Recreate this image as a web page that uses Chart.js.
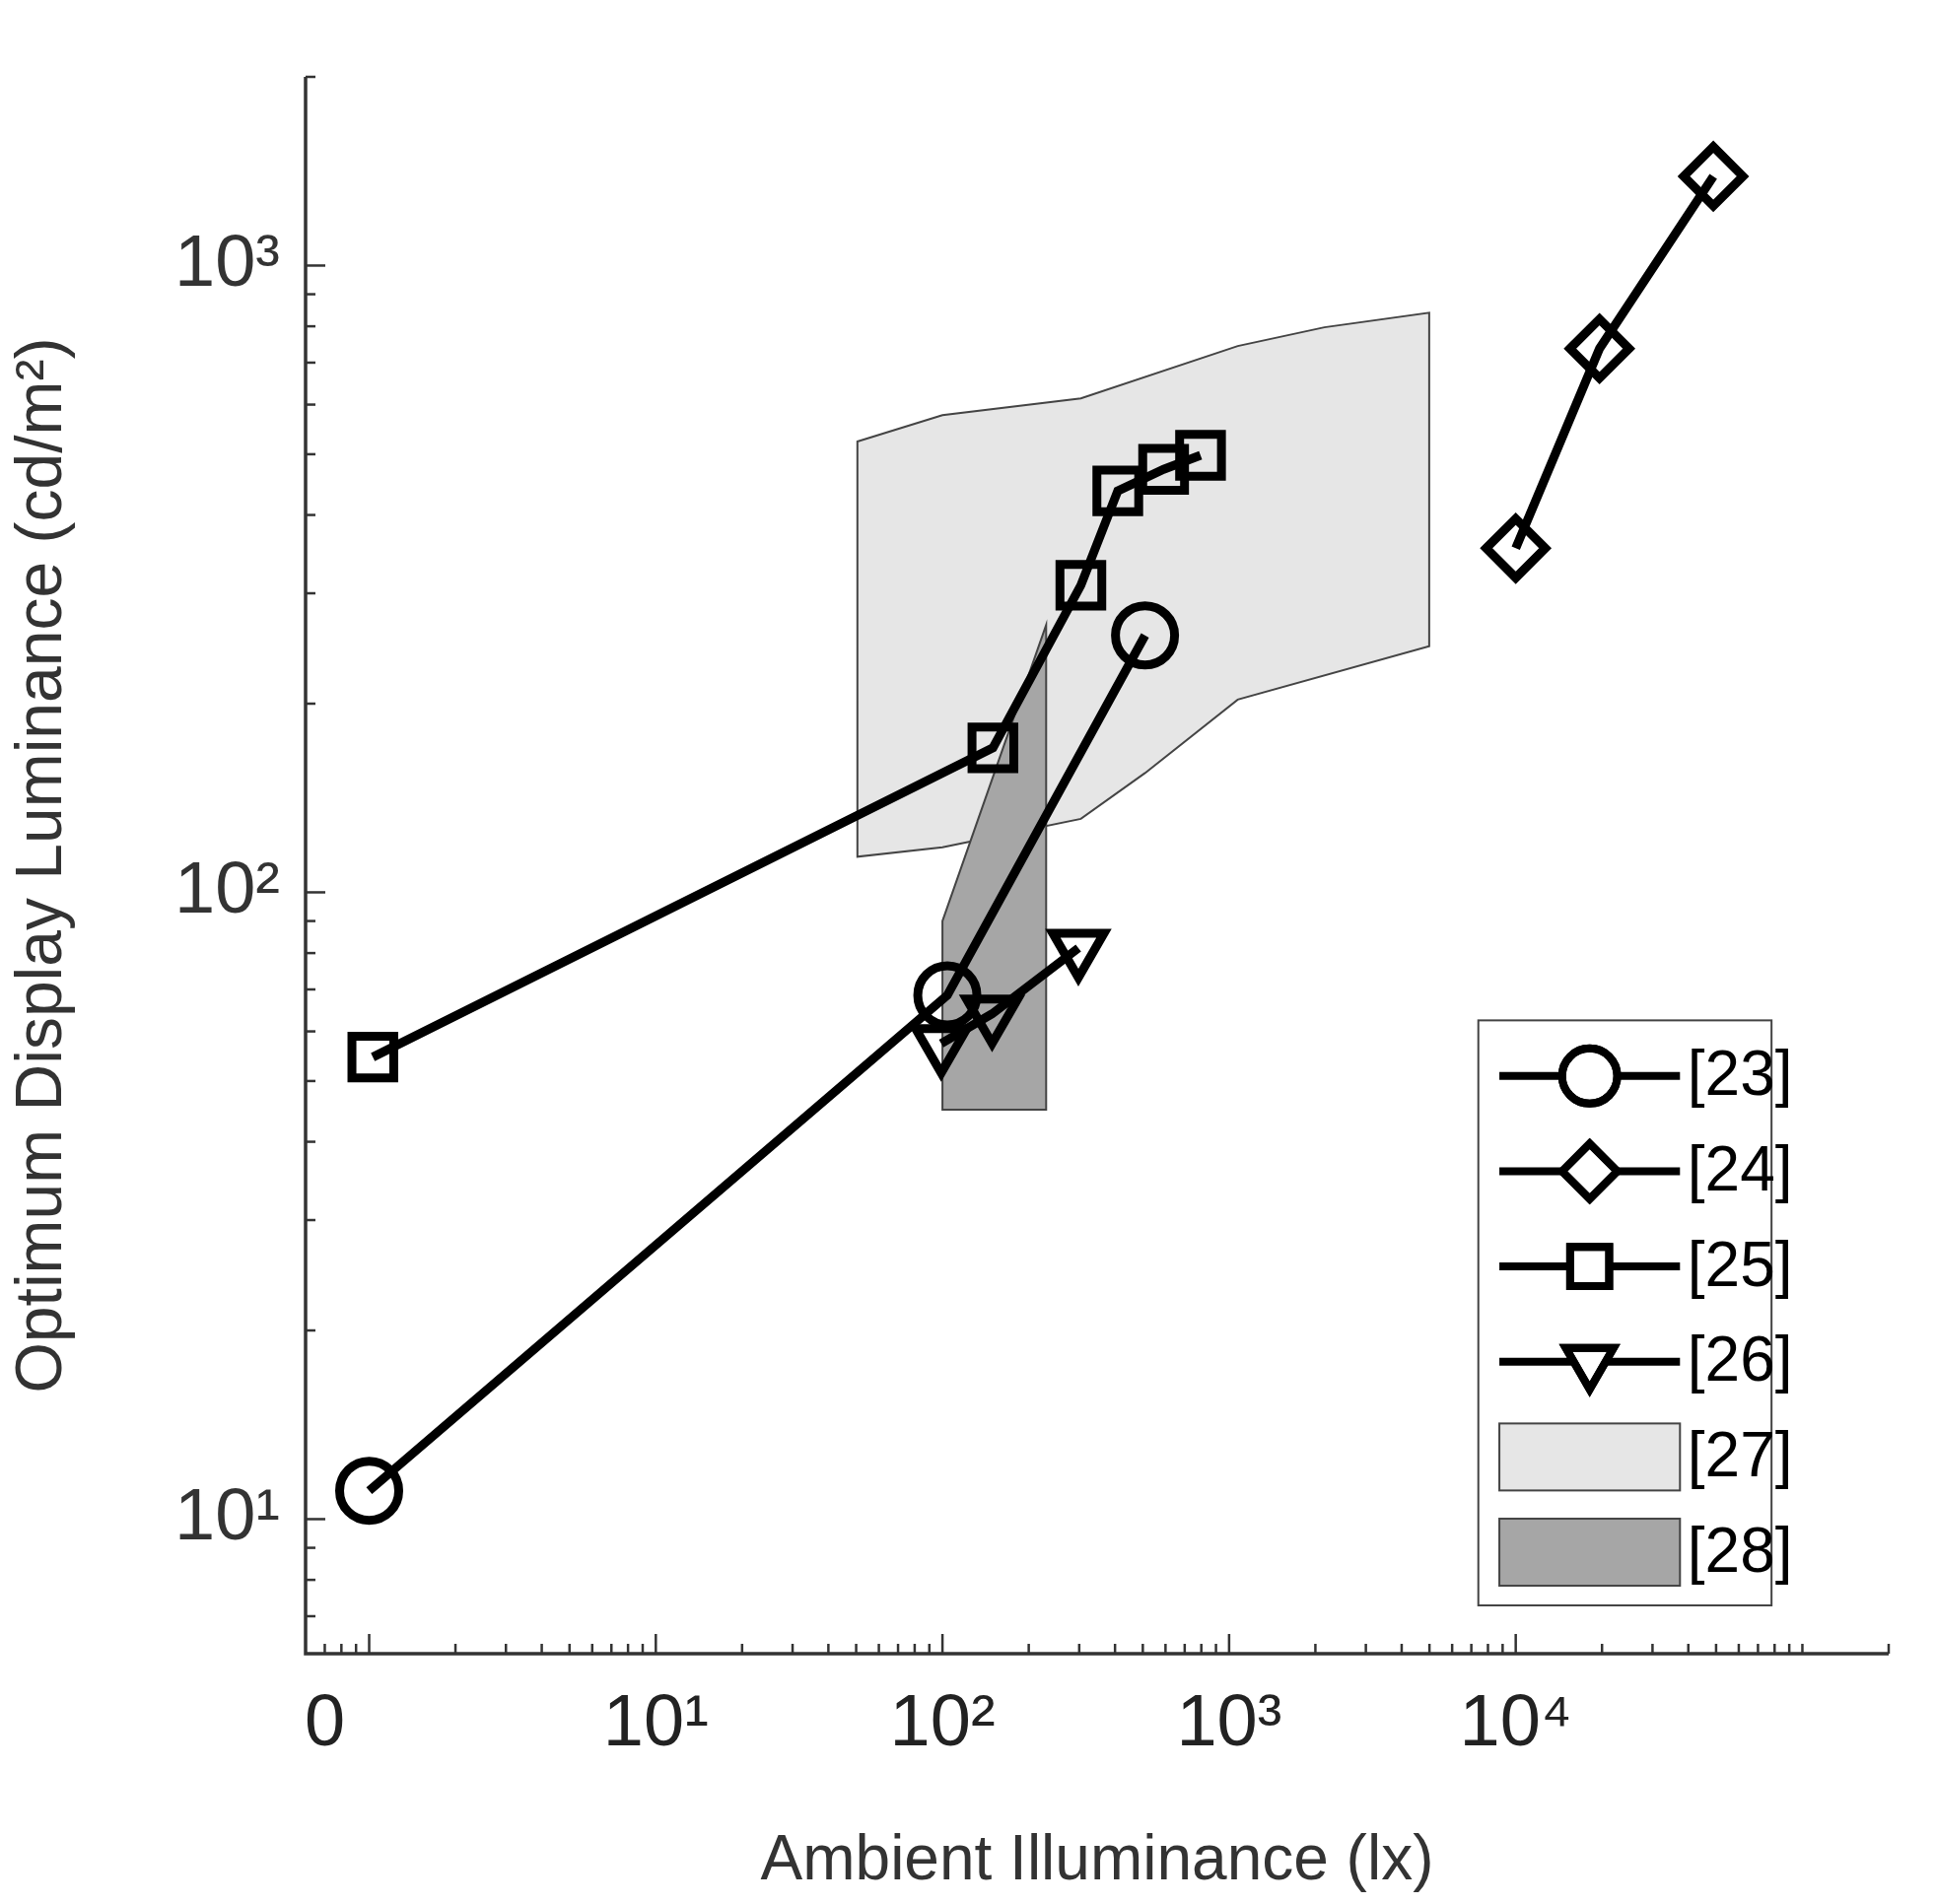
<!DOCTYPE html>
<html>
<head>
<meta charset="utf-8">
<script src="https://cdn.jsdelivr.net/npm/chart.js@4/dist/chart.umd.min.js"></script>
<style>
  html, body { margin: 0; padding: 0; background: #fff; }
  #wrap { width: 1963px; height: 1932px; }
</style>
</head>
<body>
<div id="wrap"><canvas id="c"></canvas></div>
<script>
// series (x in lx, y in cd/m2)
const ref23X = [1, 104, 509];
const ref23Y = [11.1, 68.5, 257];
const ref24X = [10000, 19600, 48900];
const ref24Y = [354, 737, 1388];
const ref25X = [1.03, 150, 304, 409, 591, 795];
const ref25Y = [54.6, 170, 309, 437, 473, 498];
const ref26X = [99, 149, 298];
const ref26Y = [57.4, 64, 81.5];

// shaded regions, outline in order
const ref27X = [50.5, 100, 304, 1072, 2150, 4990, 4990, 1072, 509, 304, 100, 50.5];
const ref27Y = [524, 577, 614, 744, 797, 841, 247, 203, 155, 131, 118, 114];
const ref28X = [100, 230, 230, 100];
const ref28Y = [90, 267, 45, 45];

const legendLabels = ['[23]', '[24]', '[25]', '[26]', '[27]', '[28]'];
const xTickLabels = { 0.7: '0', 10: '10¹', 100: '10²', 1000: '10³', 10000: '10⁴' };
const yTickLabels = { 10: '10¹', 100: '10²', 1000: '10³' };

const S = 1.255;
const pts = (xs, ys) => xs.map((x, i) => ({ x: x, y: ys[i] }));

function logTicks(min, max) {
  const out = [];
  for (let d = -1; d <= 5; d++) {
    for (let m = 1; m <= 9; m++) {
      const v = +(m * Math.pow(10, d)).toPrecision(3);
      if (v >= min && v <= max) out.push(v);
    }
  }
  return out;
}

function series(data, style, rot) {
  return {
    data: data, showLine: true, borderColor: '#000', borderWidth: 9,
    pointStyle: style, rotation: rot || 0, pointRadius: 30,
    pointBorderWidth: 9, pointBorderColor: '#000',
    pointBackgroundColor: 'rgba(0,0,0,0)', pointHoverRadius: 30
  };
}

const regions = [
  { xs: ref27X, ys: ref27Y, fill: '#e6e6e6' },
  { xs: ref28X, ys: ref28Y, fill: '#a6a6a6' }
];

const regionPlugin = {
  id: 'regions',
  beforeDatasetsDraw(chart) {
    const { ctx, scales: { x, y } } = chart;
    ctx.save();
    regions.forEach(r => {
      ctx.beginPath();
      r.xs.forEach((v, i) => {
        const px = x.getPixelForValue(v), py = y.getPixelForValue(r.ys[i]);
        i ? ctx.lineTo(px, py) : ctx.moveTo(px, py);
      });
      ctx.closePath();
      ctx.fillStyle = r.fill;
      ctx.fill();
      ctx.strokeStyle = '#444';
      ctx.lineWidth = 2;
      ctx.stroke();
    });
    ctx.restore();
  }
};

// MATLAB style inward ticks
const tickPlugin = {
  id: 'inticks',
  afterDraw(chart) {
    const { ctx, chartArea: a, scales: { x, y } } = chart;
    ctx.save();
    ctx.strokeStyle = '#333';
    ctx.lineWidth = 2.5;
    x.ticks.forEach(t => {
      const px = x.getPixelForValue(t.value);
      const major = [1, 10, 100, 1000, 10000].includes(t.value);
      ctx.beginPath(); ctx.moveTo(px, a.bottom); ctx.lineTo(px, a.bottom - (major ? 20 : 10)); ctx.stroke();
    });
    y.ticks.forEach(t => {
      const py = y.getPixelForValue(t.value);
      const major = [10, 100, 1000].includes(t.value);
      ctx.beginPath(); ctx.moveTo(a.left, py); ctx.lineTo(a.left + (major ? 20 : 10), py); ctx.stroke();
    });
    ctx.lineWidth = 3.5;
    ctx.beginPath();
    ctx.moveTo(a.left, a.top); ctx.lineTo(a.left, a.bottom); ctx.lineTo(a.right, a.bottom);
    ctx.stroke();
    ctx.restore();
  }
};

const legendPlugin = {
  id: 'boxlegend',
  afterDraw(chart) {
    const ctx = chart.ctx;
    const bx = 1195 * S, by = 825 * S, bw = 237 * S, bh = 473 * S;
    ctx.save();
    ctx.fillStyle = '#fff';
    ctx.fillRect(bx, by, bw, bh);
    ctx.strokeStyle = '#444'; ctx.lineWidth = 2;
    ctx.strokeRect(bx, by, bw, bh);
    ctx.font = '64px "Liberation Sans", Arial, sans-serif';
    ctx.textBaseline = 'middle';
    const styles = [['circle', 0], ['rectRot', 0], ['rect', 0], ['triangle', 180]];
    legendLabels.forEach((lab, i) => {
      const cy = (870 + i * 77) * S;
      const x0 = 1212 * S, x1 = 1358 * S;
      if (i < 4) {
        ctx.strokeStyle = '#000'; ctx.lineWidth = 8;
        ctx.beginPath(); ctx.moveTo(x0, cy); ctx.lineTo(x1, cy); ctx.stroke();
        ctx.fillStyle = '#fff';
        Chart.helpers.drawPoint(ctx, { pointStyle: styles[i][0], rotation: styles[i][1], radius: 28, borderWidth: 8 }, (x0 + x1) / 2, cy);
        ctx.stroke();
      } else {
        ctx.fillStyle = i === 4 ? '#e6e6e6' : '#a6a6a6';
        ctx.fillRect(x0, cy - 34, x1 - x0, 68);
        ctx.strokeStyle = '#444'; ctx.lineWidth = 2;
        ctx.strokeRect(x0, cy - 34, x1 - x0, 68);
      }
      ctx.fillStyle = '#000';
      ctx.fillText(lab, 1364 * S, cy + 2);
    });
    ctx.restore();
  }
};

const font = { family: '"Liberation Sans", Arial, sans-serif' };

new Chart(document.getElementById('c'), {
  type: 'scatter',
  data: {
    datasets: [
      series(pts(ref23X, ref23Y), 'circle'),
      series(pts(ref24X, ref24Y), 'rectRot'),
      series(pts(ref25X, ref25Y), 'rect'),
      series(pts(ref26X, ref26Y), 'triangle', 180)
    ]
  },
  options: {
    responsive: true, maintainAspectRatio: false, animation: false,
    layout: { padding: { top: 78, right: 47, left: 0, bottom: 0 } },
    plugins: { legend: { display: false }, tooltip: { enabled: false } },
    scales: {
      x: {
        type: 'logarithmic', min: 0.61, max: 200000,
        afterBuildTicks: s => { s.ticks = logTicks(0.7, 200000).map(v => ({ value: v })); },
        afterFit: s => { s.height = 254; },
        grid: { display: false },
        border: { display: false },
        ticks: {
          autoSkip: false, maxRotation: 0, color: '#222', padding: 20,
          font: { ...font, size: 74 },
          callback: v => xTickLabels[v] || ''
        },
        title: { display: true, text: 'Ambient Illuminance (lx)', color: '#333', font: { ...font, size: 64 }, padding: { top: 0 } }
      },
      y: {
        type: 'logarithmic', min: 6.1, max: 2000,
        afterBuildTicks: s => { s.ticks = logTicks(7, 2000).map(v => ({ value: v })); },
        afterFit: s => { s.width = 310; },
        grid: { display: false },
        border: { display: false },
        ticks: {
          autoSkip: false, color: '#333', padding: 18,
          font: { ...font, size: 74 },
          callback: v => yTickLabels[v] || ''
        },
        title: { display: true, text: 'Optimum Display Luminance (cd/m²)', color: '#333', font: { ...font, size: 66 }, padding: { bottom: 0 } }
      }
    }
  },
  plugins: [regionPlugin, tickPlugin, legendPlugin]
});
</script>
</body>
</html>
